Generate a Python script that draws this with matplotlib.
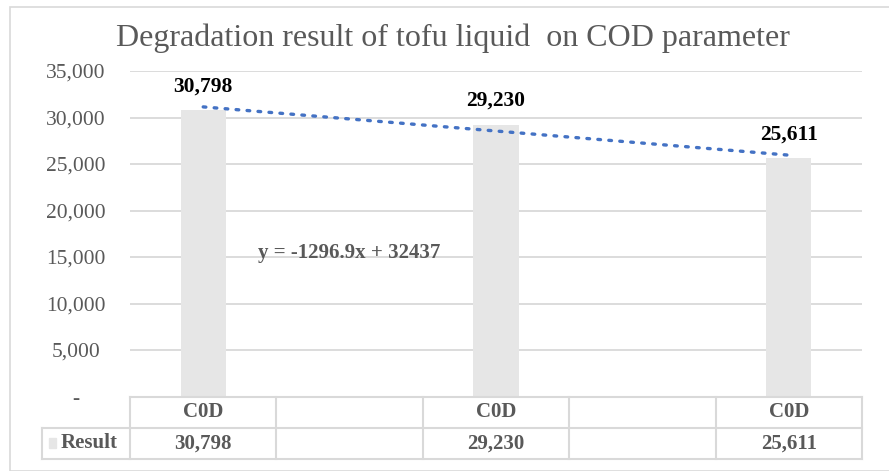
import numpy as np
import matplotlib
matplotlib.use("Agg")
import matplotlib.pyplot as plt
from matplotlib.patches import Rectangle
from matplotlib.ticker import FuncFormatter

plt.rcParams["font.family"] = ["Liberation Serif", "DejaVu Serif"]

# data
categories = ["C0D", "", "C0D", "", "C0D"]
values = [30798, None, 29230, None, 25611]
series_name = "Result"
trend_slope = -1296.9
trend_icept = 32437
title = "Degradation result of tofu liquid  on COD parameter"

gray_txt = "#595959"
grid_col = "#d9d9d9"
bar_col = "#e6e6e6"

W, H = 889, 471
fig = plt.figure(figsize=(W / 100, H / 100), dpi=100)

# chart area border
fig.patches.append(Rectangle((10 / W, 0), 1.0, 1 - 7 / H, transform=fig.transFigure,
                             fill=False, edgecolor=grid_col, lw=1.2))

left, right, top, bot = 130, 862, 71, 396.5
ax = fig.add_axes([left / W, 1 - bot / H, (right - left) / W, (bot - top) / H])

x = np.arange(1, len(categories) + 1)
for xi, v in zip(x, values):
    if v is None:
        continue
    ax.bar(xi, v, width=0.31, color=bar_col, zorder=2)
    ax.annotate(f"{v:,}", (xi, v), xytext=(0, 17), textcoords="offset points",
                ha="center", va="center", fontsize=15.5, fontweight="bold", color="black")

# linear trendline
xt = np.array([x[0], x[-1]])
ax.plot(xt, trend_slope * xt + trend_icept, linestyle=(0, (0.8, 2.5)), color="#4472c4",
        lw=2.4, dash_capstyle="round", zorder=3)
ax.text(2.0, 15400, f"y = {trend_slope}x + {trend_icept}", ha="center", va="center",
        fontsize=15, fontweight="bold", color=gray_txt, zorder=4)

ax.set_xlim(0.5, len(categories) + 0.5)
ax.set_ylim(0, 35000)
ax.set_yticks(np.arange(0, 35001, 5000))
ax.yaxis.set_major_formatter(FuncFormatter(lambda v, p: "-" if v == 0 else f"{int(v):,}"))
ax.tick_params(axis="y", length=0, labelsize=15.5, labelcolor=gray_txt)
ax.set_xticks([])
ax.grid(axis="y", color=grid_col, lw=1.3, zorder=0)
for s in ax.spines.values():
    s.set_visible(False)
for lab in ax.get_yticklabels():
    lab.set_horizontalalignment("center")
    lab.set_x(-0.067)

fig.text(0.509, 1 - 38 / H, title, ha="center", va="center", fontsize=23, color=gray_txt)

# data table below the plot
tleft, tbot = 42, 459
tab = fig.add_axes([tleft / W, 1 - tbot / H, (right - tleft) / W, (tbot - bot) / H])
x0 = 0.5 - (left - tleft) / ((right - left) / len(categories))
tab.set_xlim(x0, len(categories) + 0.5)
tab.set_ylim(0, 2)
tab.axis("off")
lc = dict(color=grid_col, lw=1.5, clip_on=False)
tab.plot([0.5, len(categories) + 0.5], [2, 2], **lc)
tab.plot([x0, len(categories) + 0.5], [1, 1], **lc)
tab.plot([x0, len(categories) + 0.5], [0, 0], **lc)
tab.plot([x0, x0], [0, 1], **lc)
for b in np.arange(0.5, len(categories) + 1):
    tab.plot([b, b], [0, 2], **lc)
for xi, c, v in zip(x, categories, values):
    tab.text(xi, 1.5, c, ha="center", va="center", fontsize=15, fontweight="bold", color=gray_txt)
    if v is not None:
        tab.text(xi, 0.5, f"{v:,}", ha="center", va="center", fontsize=15,
                 fontweight="bold", color=gray_txt)
tab.add_patch(Rectangle((x0 + 0.045, 0.34), 0.05, 0.32, color=bar_col, clip_on=False))
tab.text(x0 + 0.125, 0.5, series_name, ha="left", va="center", fontsize=15,
         fontweight="bold", color=gray_txt)

fig.savefig("out.png", dpi=100)
